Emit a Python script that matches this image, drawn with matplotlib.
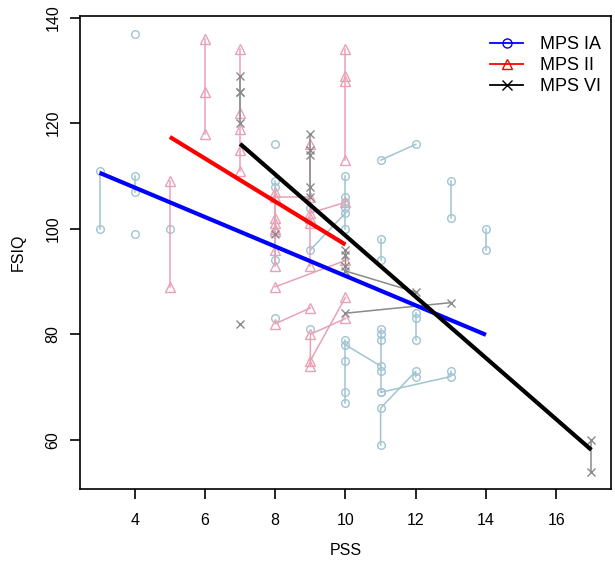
import matplotlib
matplotlib.use("Agg")
import matplotlib.pyplot as plt
from matplotlib.lines import Line2D

plt.rcParams['font.family'] = ['Liberation Sans', 'DejaVu Sans']

# ---- data: each inner list is one patient's repeated measures ----
ia_x = [[3, 3], [4, 4], [4], [4], [5], [8], [8, 8, 8], [8], [9, 10], [9],
        [10, 10, 10, 10, 10], [9], [10, 10, 10, 10], [10, 11],
        [11, 11, 11, 11, 11], [11, 13, 13], [11, 11, 12, 12], [11, 12],
        [13, 13], [11, 11], [12, 12, 12], [14, 14]]
ia_y = [[111, 100], [110, 107], [137], [99], [100], [116], [109, 108, 94], [83], [96, 103], [104],
        [110, 106, 105, 104, 100], [81], [79, 75, 69, 67], [78, 74],
        [81, 80, 79, 73, 69], [69, 72, 73], [59, 66, 73, 72], [113, 116],
        [109, 102], [98, 94], [84, 83, 79], [100, 96]]

ii_x = [[5, 5], [6, 6, 6], [7, 7, 7, 7, 7], [8, 8, 8, 8, 8, 8, 8], [8, 10], [8, 9],
        [9, 9, 9, 9], [10, 9, 9], [9, 10], [10, 10, 10, 10], [8, 9], [9, 10]]
ii_y = [[109, 89], [136, 126, 118], [134, 122, 119, 115, 111], [107, 102, 101, 100, 99.5, 96, 93],
        [89, 94], [82, 85], [116, 102, 101, 93], [83, 80, 74], [75, 87], [134, 129, 128, 113],
        [106, 106], [103, 105]]

vi_x = [[7, 7, 7, 7], [7], [8], [9, 9, 9, 9, 9], [10, 10, 10, 10, 12], [10, 13], [17, 17]]
vi_y = [[129, 126, 126, 120], [82], [99], [118, 115, 114, 108, 106], [96, 95, 93, 92, 88],
        [84, 86], [60, 54]]

# fitted group lines (endpoints)
fit_ia_x = [3, 14]
fit_ia_y = [110.6, 79.9]
fit_ii_x = [5, 10]
fit_ii_y = [117.4, 97.0]
fit_vi_x = [7, 17]
fit_vi_y = [116.1, 58.1]

groups = ["MPS IA", "MPS II", "MPS VI"]
x_ticks = [4, 6, 8, 10, 12, 14, 16]
y_ticks = [60, 80, 100, 120, 140]

fig = plt.figure(figsize=(6.15, 5.66), dpi=100)
ax = fig.add_axes([0.130, 0.136, 0.8635, 0.8357])

pale = {"ia": "#9FC4D2", "ii": "#E9A1B5", "vi": "#8A8A8A"}
ms = 5.5
for xs, ys in zip(ia_x, ia_y):
    ax.plot(xs, ys, color=pale["ia"], lw=1.1, marker='o', ms=ms, mfc='none',
            mec=pale["ia"], mew=1.0, zorder=2)
for xs, ys in zip(ii_x, ii_y):
    ax.plot(xs, ys, color=pale["ii"], lw=1.1, marker='^', ms=ms + 1, mfc='none',
            mec=pale["ii"], mew=1.0, zorder=2)
for xs, ys in zip(vi_x, vi_y):
    ax.plot(xs, ys, color=pale["vi"], lw=1.1, marker='x', ms=ms, mec=pale["vi"],
            mew=1.0, zorder=3)

ax.plot(fit_ia_x, fit_ia_y, color="#0000FF", lw=3, zorder=4, solid_capstyle='butt')
ax.plot(fit_ii_x, fit_ii_y, color="#FF0000", lw=3, zorder=4, solid_capstyle='butt')
ax.plot(fit_vi_x, fit_vi_y, color="#000000", lw=3, zorder=4, solid_capstyle='butt')

ax.set_xlim(2.44, 17.56)
ax.set_ylim(50.68, 140.32)
ax.set_xticks(x_ticks)
ax.set_yticks(y_ticks)
ax.set_xticklabels([str(v) for v in x_ticks], fontsize=11.5)
ax.set_yticklabels([str(v) for v in y_ticks], fontsize=11.5, rotation=90, va='center')
ax.tick_params(axis='x', direction='out', length=7, width=1.2, pad=10)
ax.tick_params(axis='y', direction='out', length=7, width=1.2, pad=7)
for s in ax.spines.values():
    s.set_linewidth(1.2)
ax.set_xlabel("PSS", fontsize=11.5, labelpad=11)
ax.set_ylabel("FSIQ", fontsize=11.5, labelpad=14)

handles = [
    Line2D([], [], color="#0000FF", lw=1.3, marker='o', mfc='none', ms=6.5),
    Line2D([], [], color="#FF0000", lw=1.3, marker='^', mfc='none', ms=6.5),
    Line2D([], [], color="#000000", lw=1.3, marker='x', ms=6.5),
]
ax.legend(handles, groups, loc='upper right', frameon=False, fontsize=13,
          handlelength=1.85, labelspacing=0.22, bbox_to_anchor=(0.982, 0.958),
          handletextpad=0.95, borderpad=0, borderaxespad=0)

fig.savefig("out.png", dpi=100)
